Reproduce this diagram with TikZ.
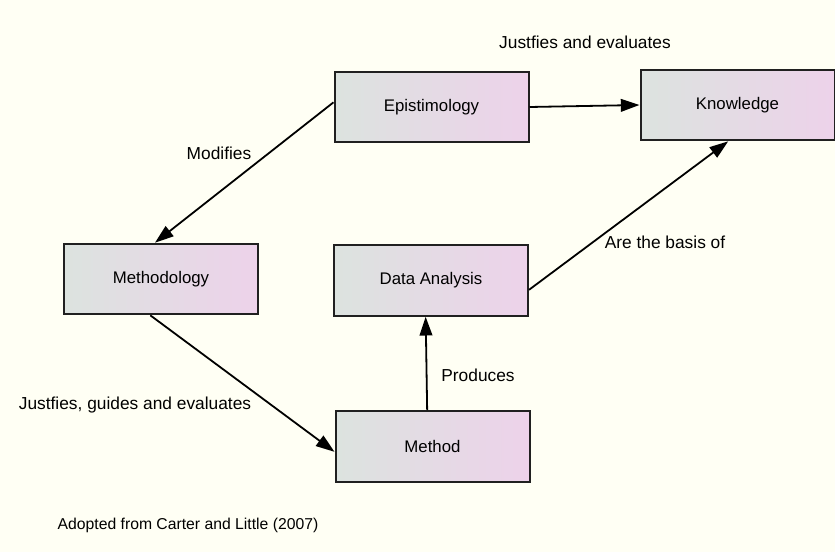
\documentclass[tikz,border=0pt]{standalone}
\usepackage{fontspec}
\setmainfont{Liberation Sans}
\usetikzlibrary{arrows.meta}

\definecolor{paper}{HTML}{FFFFF4}
\definecolor{boxleft}{HTML}{DCE3DF}
\definecolor{boxright}{HTML}{EDD2EA}
\definecolor{edge}{HTML}{202020}

\tikzset{
    concept/.style={draw=edge, line width=1.5pt, left color=boxleft, right color=boxright,
        minimum width=145.5pt, minimum height=53pt, inner sep=0pt,
        font=\fontsize{12.6}{15}\selectfont},
    link/.style={->, line width=1.35pt},
    tag/.style={font=\fontsize{13}{15}\selectfont}
}

\begin{document}
\begin{tikzpicture}[x=0.75pt, y=-0.75pt, >={Triangle[length=14pt,width=9.5pt]}]
    \fill[paper] (0,0) rectangle (835,552);
    \useasboundingbox (0,0) rectangle (835,552);

    \node[concept] (epi) at (431.5,107) {Epistimology};
    \node[concept] (know) at (737.5,105) {Knowledge};
    \node[concept] (mthdgy) at (161,279) {Methodology};
    \node[concept] (data) at (431,280.5) {Data Analysis};
    \node[concept] (method) at (432.5,446.5) {Method};

    \draw[link] (epi.east) -- (know.west);
    \draw[link] ([yshift=3.5pt]epi.west) -- ([xshift=-4.5pt]mthdgy.north);
    \draw[link] ([xshift=-8pt]mthdgy.south) -- ([yshift=-4pt]method.west);
    \draw[link] ([xshift=-4pt]method.north) -- ([xshift=-4pt]data.south);
    \draw[link] ([yshift=-7pt]data.east) -- ([xshift=-7pt]know.south);

    \node[tag] (t1) at (585,42) {Justfies and evaluates};
    \node[tag] (t2) at (219,153) {Modifies};
    \node[tag] (t3) at (665,242) {Are the basis of};
    \node[tag] (t4) at (478,375) {Produces};
    \node[tag] (t5) at (135,405) {Justfies, guides and evaluates};
    \node[tag, font=\fontsize{11.8}{14}\selectfont] (t6) at (188,525) {Adopted from Carter and Little (2007)};
\end{tikzpicture}
\end{document}
